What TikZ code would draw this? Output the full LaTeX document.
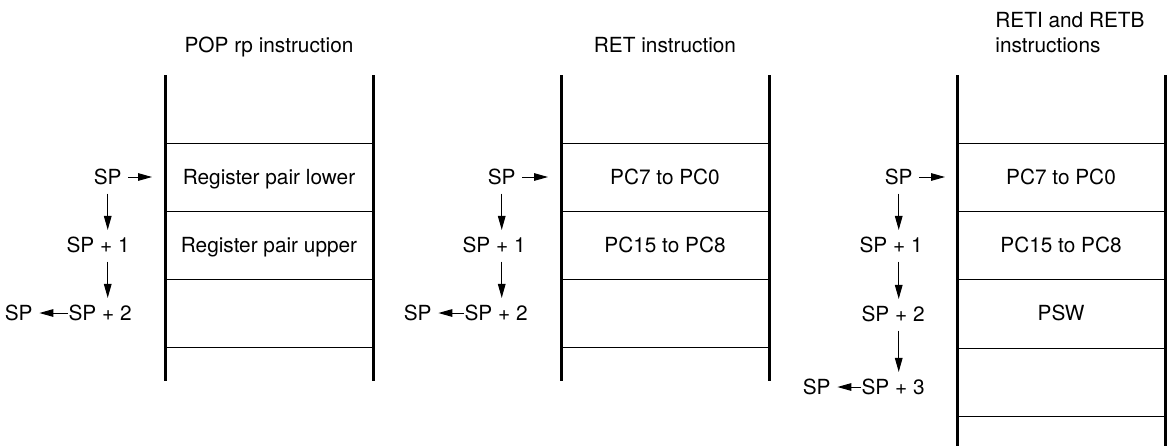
\documentclass[tikz,border=0pt]{standalone}
\usepackage{fontspec}
\setmainfont{TeX Gyre Heros}
\usetikzlibrary{arrows.meta}
\begin{document}
\begin{tikzpicture}[x=0.5pt,y=-0.5pt,
  font=\fontsize{10.4}{12.5}\selectfont,
  wall/.style={line width=1.5pt},
  cellline/.style={line width=0.5pt},
  ptr/.style={-{Triangle[length=7pt,width=3.8pt]}, line width=0.5pt},
  lbl/.style={inner sep=0pt, text height=0.72em, text depth=0pt},
  down/.style={ptr, shorten <=4.5pt, shorten >=3.75pt},
  side/.style={ptr, shorten >=3.2pt}]
\useasboundingbox (0,0) rectangle (1173,446);

% ---------- Stack 1: POP rp ----------
\node[lbl] (t1) at (269,45) {POP rp instruction};
\draw[wall] (165,75) -- (165,381);
\draw[wall] (373,75) -- (373,381);
\foreach \y in {143,211,279,347} \draw[cellline] (165,\y) -- (373,\y);
\node[lbl] (a1) at (269,177) {Register pair lower};
\node[lbl] (a2) at (269,245) {Register pair upper};
\node[lbl, anchor=east] (aSP) at (122,177) {SP};
\coordinate (aT) at (152,177);
\node[lbl, anchor=east] (aS1) at (130,245) {SP + 1};
\node[lbl, anchor=east] (aS2) at (132,313) {SP + 2};
\node[lbl, anchor=east] (aN) at (33,313) {SP};
\draw[ptr, shorten <=3pt] (aSP) -- (aT);
\draw[down] (aSP.south) -- (aSP.south |- aS1.north);
\draw[down] (aSP.south |- aS1.south) -- (aSP.south |- aS2.north);
\draw[side] (aS2.west) -- (aN.east);

% ---------- Stack 2: RET ----------
\node[lbl] (t2) at (665,45) {RET instruction};
\draw[wall] (561,75) -- (561,381);
\draw[wall] (769,75) -- (769,381);
\foreach \y in {143,211,279,347} \draw[cellline] (561,\y) -- (769,\y);
\node[lbl] (b1) at (665,177) {PC7 to PC0};
\node[lbl] (b2) at (665,245) {PC15 to PC8};
\node[lbl, anchor=east] (bSP) at (516,177) {SP};
\coordinate (bT) at (548,177);
\node[lbl, anchor=east] (bS1) at (526,245) {SP + 1};
\node[lbl, anchor=east] (bS2) at (528,313) {SP + 2};
\node[lbl, anchor=east] (bN) at (432,313) {SP};
\draw[ptr, shorten <=3pt] (bSP) -- (bT);
\draw[down] (bSP.south) -- (bSP.south |- bS1.north);
\draw[down] (bSP.south |- bS1.south) -- (bSP.south |- bS2.north);
\draw[side] (bS2.west) -- (bN.east);

% ---------- Stack 3: RETI / RETB ----------
\node[inner sep=0pt, anchor=north west, align=left] (t3) at (995,12) {RETI and RETB\\instructions};
\draw[wall] (957,75) -- (957,446);
\draw[wall] (1165,75) -- (1165,446);
\foreach \y in {143,211,279,348,416} \draw[cellline] (957,\y) -- (1165,\y);
\node[lbl] (c1) at (1061,177) {PC7 to PC0};
\node[lbl] (c2) at (1061,245) {PC15 to PC8};
\node[lbl] (c3) at (1061,313) {PSW};
\node[lbl, anchor=east] (cSP) at (913,177) {SP};
\coordinate (cT) at (945,177);
\node[lbl, anchor=east] (cS1) at (923,245) {SP + 1};
\node[lbl, anchor=east] (cS2) at (925,314) {SP + 2};
\node[lbl, anchor=east] (cS3) at (925,387) {SP + 3};
\node[lbl, anchor=east] (cN) at (831,387) {SP};
\draw[ptr, shorten <=3pt] (cSP) -- (cT);
\draw[down] (cSP.south) -- (cSP.south |- cS1.north);
\draw[down] (cSP.south |- cS1.south) -- (cSP.south |- cS2.north);
\draw[down] (cSP.south |- cS2.south) -- (cSP.south |- cS3.north);
\draw[side] (cS3.west) -- (cN.east);
\end{tikzpicture}
\end{document}
